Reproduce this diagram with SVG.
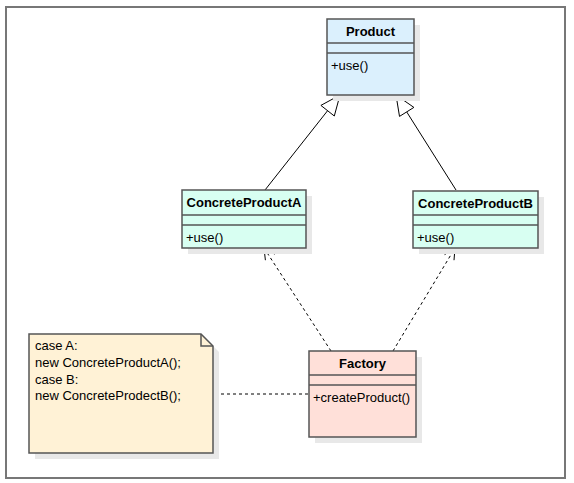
<svg xmlns="http://www.w3.org/2000/svg" width="574" height="483" viewBox="0 0 574 483">
<style>
text{font-family:"Liberation Sans",Arial,sans-serif;font-size:13px;fill:#000}
.t{font-weight:bold;text-anchor:middle}
.b{stroke:#555;stroke-width:1.5}
.sh{fill:#e8e8e8}
.c{stroke:#000;stroke-width:1;fill:none}
.d{stroke:#000;stroke-width:1;fill:none;stroke-dasharray:3,3}
.tri{fill:#fff;stroke:#000;stroke-width:1}
.op{fill:none;stroke:#000;stroke-width:1}
</style>
<rect x="0" y="0" width="574" height="483" fill="#fff"/>
<rect x="6" y="7" width="559" height="471" fill="none" stroke="#777" stroke-width="2"/>
<g id="connectors">
<line class="c" x1="265" y1="190" x2="327.6" y2="110.7"/>
<path class="tri" d="M340,95 L334.3,116 L320.9,105.4 Z"/>
<line class="c" x1="456" y1="190" x2="406.7" y2="111.9"/>
<path class="tri" d="M396,95 L413.9,107.4 L399.5,116.4 Z"/>
<line class="d" x1="331" y1="351" x2="264" y2="248"/>
<path class="op" d="M274.6,254.2 L264,248 L265.4,260.2"/>
<line class="d" x1="393" y1="351" x2="455" y2="248"/>
<path class="op" d="M454,260.2 L455,248 L444.6,254.6"/>
<line class="d" x1="215" y1="394" x2="309" y2="394"/>
</g>
<g id="product">
<rect class="sh" x="333" y="25" width="87" height="76"/>
<rect class="b" x="327" y="19" width="87" height="76" fill="#dbf0fd"/>
<line class="b" x1="327" y1="43" x2="414" y2="43"/>
<line class="b" x1="327" y1="53" x2="414" y2="53"/>
<text class="t" x="370.5" y="36">Product</text>
<text x="331" y="70">+use()</text>
</g>
<g id="concreteProductA">
<rect class="sh" x="188" y="196" width="124" height="58"/>
<rect class="b" x="182" y="190" width="124" height="58" fill="#d8fff2"/>
<line class="b" x1="182" y1="215" x2="306" y2="215"/>
<line class="b" x1="182" y1="225" x2="306" y2="225"/>
<text class="t" x="244" y="207">ConcreteProductA</text>
<text x="186" y="242">+use()</text>
</g>
<g id="concreteProductB">
<rect class="sh" x="419" y="197" width="125" height="57"/>
<rect class="b" x="413" y="191" width="125" height="57" fill="#d8fff2"/>
<line class="b" x1="413" y1="215" x2="538" y2="215"/>
<line class="b" x1="413" y1="225" x2="538" y2="225"/>
<text class="t" x="475.5" y="208">ConcreteProductB</text>
<text x="417" y="242">+use()</text>
</g>
<g id="factory">
<rect class="sh" x="315" y="357" width="107" height="86"/>
<rect class="b" x="309" y="351" width="107" height="86" fill="#ffe0d9"/>
<line class="b" x1="309" y1="375" x2="416" y2="375"/>
<line class="b" x1="309" y1="385" x2="416" y2="385"/>
<text class="t" x="362.5" y="368">Factory</text>
<text x="313" y="402">+createProduct()</text>
</g>
<g id="note">
<path d="M35,340 H207 L219,352 V459 H35 Z" fill="#e8e8e8"/>
<path class="b" d="M29,334 H201 L213,346 V453 H29 Z" fill="#fff2d6"/>
<path class="b" d="M201,334 V346 H213" fill="none"/>
<text x="35" y="350">case A:</text>
<text x="35" y="367">new ConcreteProductA();</text>
<text x="35" y="384">case B:</text>
<text x="35" y="400">new ConcreteProdectB();</text>
</g>
</svg>
